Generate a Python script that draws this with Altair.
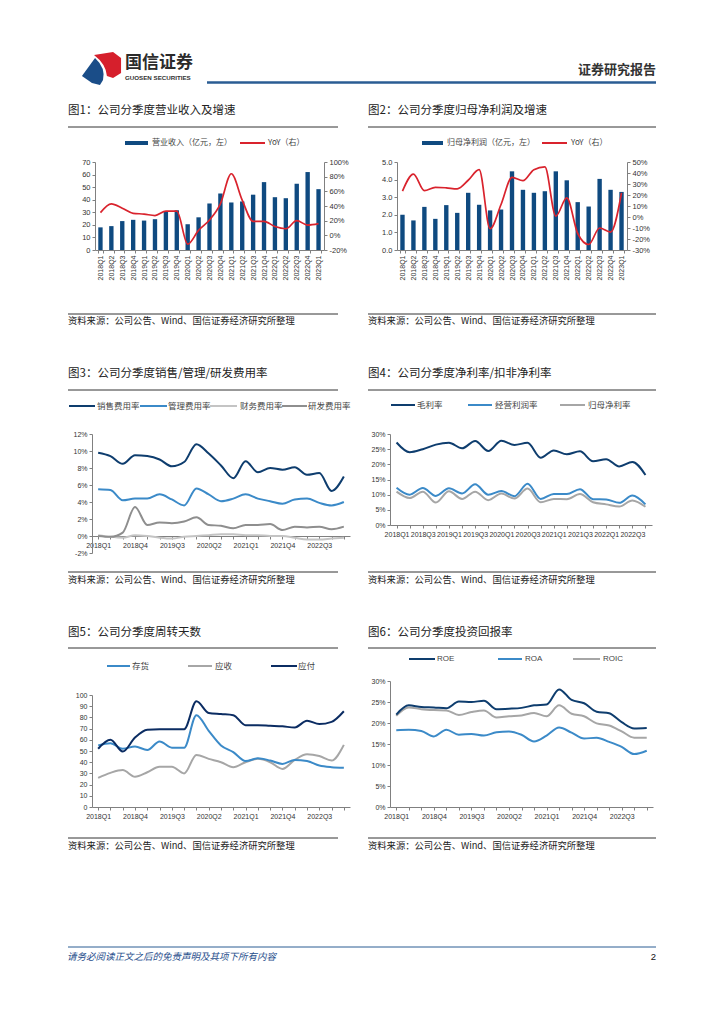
import altair as alt
import pandas as pd

# ---------------- data ----------------
quarters = ['2018Q1', '2018Q2', '2018Q3', '2018Q4', '2019Q1', '2019Q2', '2019Q3', '2019Q4',
            '2020Q1', '2020Q2', '2020Q3', '2020Q4', '2021Q1', '2021Q2', '2021Q3', '2021Q4',
            '2022Q1', '2022Q2', '2022Q3', '2022Q4', '2023Q1']
quarters_m = quarters[:20]

revenue = [18, 19, 23, 24, 23.4, 24.5, 31, 31.6, 20.5, 26, 37, 45, 37.8, 38.6, 44, 54, 42, 41.2, 52.7, 62, 48.4]
revenue_yoy = [31, 43, 37, 30, 29, 27, 33, 33, -12, 7, 21, 43, 84, 48, 19, 19, 12, 9, 20, 14, 16]

profit = [2.0, 1.68, 2.45, 1.77, 2.55, 2.11, 3.25, 2.57, 2.25, 2.3, 4.47, 3.42, 3.25, 3.34, 4.47, 3.96,
          2.72, 2.47, 4.04, 3.42, 3.3]
profit_yoy = [23.5, 39, 24, 27, 26.5, 25.6, 33.4, 43, -10.7, 11.4, 36, 33, 43, 45.5, 0.8, 17.4,
              -15, -25, -10, -13.7, 22]

sales_rate = [9.8, 9.4, 8.5, 9.5, 9.4, 9.0, 8.2, 8.7, 10.8, 9.7, 8.3, 6.8, 8.8, 7.5, 8.0, 7.8, 8.1, 7.2, 7.4, 5.3, 7.0]
admin_rate = [5.5, 5.4, 4.2, 4.4, 4.4, 4.9, 4.3, 3.6, 5.6, 4.9, 4.1, 4.4, 4.9, 4.4, 4.1, 3.8, 4.3, 4.4, 3.9, 3.6, 4.0]
finance_rate = [0.1, -0.1, -0.2, 0.1, 0.0, -0.2, -0.3, -0.1, 0.0, 0.1, 0.2, 0.2, 0.1, 0.1, 0.0, 0.0,
                -0.2, -0.4, -0.4, -0.3, -0.2]
rnd_rate = [0.0, -0.1, 0.4, 3.4, 1.3, 1.6, 1.5, 1.7, 2.2, 1.3, 1.2, 0.9, 1.3, 1.3, 1.4, 0.7, 1.1, 1.0, 1.1, 0.8, 1.1]

gross_margin = [27.2, 24.0, 25.0, 26.5, 27.1, 25.3, 27.7, 24.4, 27.8, 26.4, 27.1, 22.2, 24.6, 23.3, 24.3,
                21.0, 21.7, 19.3, 20.8, 16.5]
op_margin = [12.3, 10.0, 12.2, 9.6, 12.1, 10.4, 13.4, 10.0, 11.2, 9.5, 13.6, 8.6, 10.2, 10.2, 11.8,
             8.5, 8.4, 7.3, 9.7, 6.8]
net_margin = [11.0, 8.9, 11.0, 7.4, 11.1, 8.6, 11.0, 8.2, 10.4, 8.7, 12.0, 7.5, 8.6, 8.5, 10.2,
              7.5, 6.8, 6.1, 8.1, 6.0]

inventory_days = [55, 57, 52, 54, 51, 58.5, 53, 53, 82, 68, 55, 49, 41, 43.5, 41.5, 38.5, 42, 41, 37, 35.5, 35]
receivable_days = [26, 30.5, 33, 27, 31, 36, 36, 30, 46.5, 43, 40, 35.5, 40, 43, 40, 34, 42, 47, 45.5, 41.5, 55.5]
payable_days = [52, 60, 49.5, 62, 69, 69.5, 69.5, 69.5, 94.5, 84, 83, 82, 73, 73, 72.5, 72, 71, 77, 74, 76, 85.5]

roe = [22.0, 24.2, 23.8, 23.7, 23.5, 25.1, 25.0, 25.3, 23.3, 23.4, 23.6, 24.2, 24.4, 28.0, 25.5, 24.7,
       22.7, 22.3, 20.2, 18.7, 18.8]
roa = [18.3, 18.4, 18.1, 16.8, 18.4, 17.2, 17.4, 17.0, 17.8, 18.0, 17.2, 15.6, 17.0, 18.9, 17.7, 16.3,
       16.5, 15.5, 14.3, 12.6, 13.4]
roic = [21.7, 23.7, 23.3, 23.1, 23.0, 21.9, 22.6, 23.0, 21.3, 21.6, 21.8, 22.4, 21.6, 24.2, 22.2, 21.6,
        19.9, 19.4, 18.0, 16.5, 16.5]

# ---------------- styles ----------------
CJK = 'Noto Sans CJK SC'
LAT = 'Liberation Sans'
NAVY = '#0F4A80'
DNAVY = '#0E3D6E'
PNAVY = '#0B2C62'
MBLUE = '#3B8AC8'
LGREY = '#C4C4C4'
GREY = '#8E8E8E'
MGREY = '#A6A6A6'
RED = '#D9232D'
ONE = alt.Data(values=[{}])


def long_df(qs, series):
    rows = []
    for name, vals in series:
        for q, v in zip(qs, vals):
            rows.append({'q': q, 's': name, 'v': v})
    return pd.DataFrame(rows)


PCT = "datum.value + '%'"


def label_filter(show):
    arr = ','.join("'%s'" % s for s in show)
    return "indexof([%s], datum.value) >= 0 ? datum.value : ''" % arr


# ---------------- decorations (page coordinates) ----------------
def T(x, y, s, size, color='#222222', weight='normal', align='left', font=CJK, style='normal'):
    return alt.Chart(ONE).mark_text(align=align, baseline='middle', fontSize=size, font=font,
                                    color=color, fontWeight=weight, fontStyle=style).encode(
        x=alt.value(x - 8), y=alt.value(y - 8), text=alt.value(s))


def R(x1, x2, y, color='#333333', w=1.0):
    return alt.Chart(ONE).mark_rule(color=color, strokeWidth=w).encode(
        x=alt.value(x1 - 8), x2=alt.value(x2 - 8), y=alt.value(y - 8))


red_path = "M-0.44,-0.79 L0.68,-0.97 L1.15,-0.62 L1.15,0.26 L0.68,0.56 L0.32,0.44 Q0.26,-0.26 -0.44,-0.79 Z"
blue_path = "M-1.15,0.44 L-0.38,-0.62 Q0.26,-0.03 0.09,0.68 L-0.09,0.97 L-0.56,0.85 Z"


def logo(path, color):
    return alt.Chart(ONE).mark_point(shape=path, filled=True, size=1156, color=color,
                                     opacity=1, strokeWidth=0).encode(
        x=alt.value(101.5 - 8), y=alt.value(68.5 - 8))


src = '资料来源：公司公告、Wind、国信证券经济研究所整理'
deco = [
    logo(red_path, '#D61F2C'), logo(blue_path, '#1A4D88'),
    T(125, 63, '国信证券', 17, '#2b2b2b', 'bold'),
    T(125, 77.5, 'GUOSEN SECURITIES', 6.2, '#333333', 'bold', font=LAT),
    T(656, 70, '证券研究报告', 13, '#333333', 'bold', align='right'),
    R(207, 656, 82.5, '#2A5C93', 2.5),
    # titles
    T(68, 111, '图1：公司分季度营业收入及增速', 11.5),
    T(368, 111, '图2：公司分季度归母净利润及增速', 11.5),
    T(68, 374, '图3：公司分季度销售/管理/研发费用率', 11.5),
    T(368, 374, '图4：公司分季度净利率/扣非净利率', 11.5),
    T(68, 633, '图5：公司分季度周转天数', 11.5),
    T(368, 633, '图6：公司分季度投资回报率', 11.5),
    R(68, 338, 127), R(368, 656, 127),
    R(68, 338, 390), R(368, 656, 390),
    R(68, 338, 648), R(368, 656, 648),
    R(68, 338, 314), R(368, 656, 314),
    R(68, 338, 572), R(368, 656, 572),
    R(68, 338, 838), R(368, 656, 838),
    T(68, 321, src, 9.3), T(368, 321, src, 9.3),
    T(68, 580, src, 9.3), T(368, 580, src, 9.3),
    T(68, 846, src, 9.3), T(368, 846, src, 9.3),
    # legend chart 1
    R(125, 148, 143, NAVY, 4), T(152, 143, '营业收入（亿元，左）', 8, '#444444'),
    R(240, 265, 143, RED, 2), T(268, 143, 'YoY（右）', 8, '#444444'),
    # legend chart 2
    R(422, 443, 143, NAVY, 4), T(447, 143, '归母净利润（亿元，左）', 8, '#444444'),
    R(542, 567, 143, RED, 2), T(571, 143, 'YoY（右）', 8, '#444444'),
    # legend chart 3
    R(69, 95, 406, DNAVY, 2), T(97, 406, '销售费用率', 8.5, '#444444'),
    R(140, 167, 406, MBLUE, 2), T(168, 406, '管理费用率', 8.5, '#444444'),
    R(210, 237, 406, LGREY, 2), T(240, 406, '财务费用率', 8.5, '#444444'),
    R(282, 307, 406, GREY, 2), T(308, 406, '研发费用率', 8.5, '#444444'),
    # legend chart 4
    R(391, 415, 405, DNAVY, 2), T(417, 405, '毛利率', 8.5, '#444444'),
    R(468, 492, 405, MBLUE, 2), T(495, 405, '经营利润率', 8.5, '#444444'),
    R(560, 585, 405, MGREY, 2), T(588, 405, '归母净利率', 8.5, '#444444'),
    # legend chart 5
    R(107, 130, 666, MBLUE, 2), T(132, 666, '存货', 8.5, '#444444'),
    R(188, 212, 666, MGREY, 2), T(215, 666, '应收', 8.5, '#444444'),
    R(271, 297, 666, PNAVY, 2), T(298, 666, '应付', 8.5, '#444444'),
    # legend chart 6
    R(409, 435, 659, DNAVY, 2), T(437, 659, 'ROE', 8, '#444444', font=LAT),
    R(498, 522, 659, MBLUE, 2), T(525, 659, 'ROA', 8, '#444444', font=LAT),
    R(573, 600, 659, MGREY, 2), T(603, 659, 'ROIC', 8, '#444444', font=LAT),
    # footer
    R(68, 656, 947, '#2A5C93', 1),
    T(67, 957, '请务必阅读正文之后的免责声明及其项下所有内容', 9.5, '#1F4E8C', style='italic'),
    T(656, 957, '2', 9.5, '#111111', align='right', font=LAT),
]
header = alt.layer(*deco).properties(width=84, height=154)


def spacer(w, h):
    return alt.Chart(ONE).mark_rule(opacity=0).encode(
        x=alt.value(w / 2), y=alt.value(h / 2), y2=alt.value(h / 2 + 1)).properties(width=w, height=h)


# ---------------- bar + line charts ----------------
def bar_line(values, yoy, w, x0, ldom, lvals, lfmt, rdom, rvals):
    df = pd.DataFrame({'q': quarters, 'val': values, 'yoy': yoy})
    x = alt.X('q:N', sort=quarters,
              scale=alt.Scale(range=[x0, w], paddingInner=0.6, paddingOuter=0.3),
              axis=alt.Axis(title=None, labelAngle=270, labelFontSize=7, tickBand='extent',
                            labelOverlap=False, labelPadding=2))
    bars = alt.Chart(df).mark_bar(color=NAVY).encode(
        x=x,
        y=alt.Y('val:Q', scale=alt.Scale(domain=ldom, nice=False),
                axis=alt.Axis(title=None, values=lvals, format=lfmt, offset=-x0, labelFontSize=7.5)))
    line = alt.Chart(df).mark_line(color=RED, strokeWidth=1.7, interpolate='monotone').encode(
        x=x,
        y=alt.Y('yoy:Q', scale=alt.Scale(domain=rdom, nice=False),
                axis=alt.Axis(title=None, orient='right', values=rvals, labelExpr=PCT,
                              labelFontSize=7.5)))
    return alt.layer(bars, line).resolve_scale(y='independent').properties(width=w, height=88)


c1 = bar_line(revenue, revenue_yoy, 232, 3, [0, 70], list(range(0, 71, 10)), 'd',
              [-20, 100], list(range(-20, 101, 20)))
c2 = bar_line(profit, profit_yoy, 237, 7, [0, 5], [0, 1, 2, 3, 4, 5], '.1f',
              [-30, 50], list(range(-30, 51, 10)))


# ---------------- line charts ----------------
def lines(qs, series, colors, ydom, yvals, w, h, show, pct_labels=True, x_offset=0, yrange=None):
    df = long_df(qs, series)
    names = [s[0] for s in series]
    if yrange is not None:
        yscale = alt.Scale(domain=ydom, nice=False, zero=False, range=yrange)
    else:
        yscale = alt.Scale(domain=ydom, nice=False, zero=False)
    if pct_labels:
        yaxis = alt.Axis(title=None, values=yvals, labelExpr=PCT, labelFontSize=7)
    else:
        yaxis = alt.Axis(title=None, values=yvals, labelFontSize=7)
    return alt.Chart(df).mark_line(strokeWidth=2, interpolate='monotone').encode(
        x=alt.X('q:N', sort=qs, scale=alt.Scale(type='point', padding=0.5),
                axis=alt.Axis(title=None, labelAngle=0, labelExpr=label_filter(show),
                              labelOverlap=False, labelFontSize=7, offset=x_offset)),
        y=alt.Y('v:Q', scale=yscale, axis=yaxis),
        color=alt.Color('s:N', scale=alt.Scale(domain=names, range=colors), legend=None),
    ).properties(width=w, height=h)


c3 = lines(quarters, [('财务费用率', finance_rate), ('研发费用率', rnd_rate),
                      ('管理费用率', admin_rate), ('销售费用率', sales_rate)],
           [LGREY, GREY, MBLUE, DNAVY], [-2, 12], list(range(-2, 13, 2)), 258, 119,
           quarters[::3], x_offset=-17)
c4 = lines(quarters_m, [('归母净利率', net_margin), ('经营利润率', op_margin), ('毛利率', gross_margin)],
           [MGREY, MBLUE, DNAVY], [0, 30], list(range(0, 31, 5)), 262, 91, quarters_m[::2])
c5 = lines(quarters, [('应收', receivable_days), ('存货', inventory_days), ('应付', payable_days)],
           [MGREY, MBLUE, PNAVY], [0, 100], list(range(0, 101, 10)), 258, 126, quarters[::3],
           pct_labels=False, yrange=[126, 14])
c6 = lines(quarters, [('ROIC', roic), ('ROA', roa), ('ROE', roe)],
           [MGREY, MBLUE, DNAVY], [0, 30], list(range(0, 31, 5)), 263, 126, quarters[::3])

cells = [
    header, spacer(258, 1), spacer(40, 1), spacer(263, 1),
    spacer(84, 272), c1, spacer(40, 1), c2,
    spacer(84, 247), c3, spacer(40, 1), c4,
    spacer(84, 126), c5, spacer(40, 1), c6,
]

chart = alt.concat(*cells, columns=4, spacing=0, bounds='flush').resolve_scale(
    color='independent'
).properties(
    padding=0
).configure_view(stroke=None).configure_axis(
    grid=False, labelFont=LAT, labelColor='#333333', domainColor='#808080', tickColor='#808080',
    tickSize=3, labelPadding=2, domainWidth=1
)

chart.save("out.html", embed_options={"renderer": "svg", "actions": False})
